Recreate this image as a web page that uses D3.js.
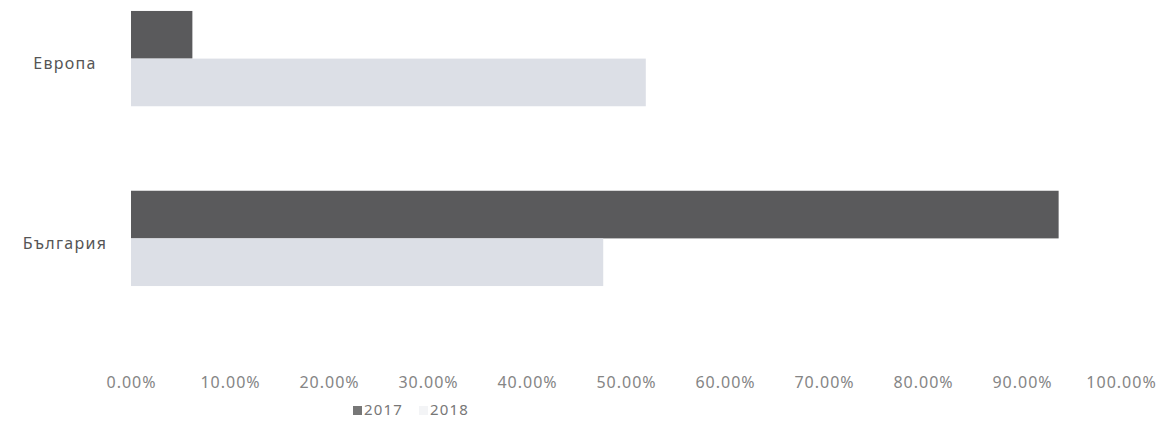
<!DOCTYPE html>
<html><head><meta charset="utf-8">
<script src="https://cdn.jsdelivr.net/npm/d3@7"></script>
<style>
body{margin:0;background:#fff;}
svg{display:block;}
text{font-family:"Noto Sans",sans-serif;}
</style></head>
<body>
<svg id="c" width="1168" height="422"></svg>
<script>
const categories = ["Европа", "България"];
const seriesNames = ["2017", "2018"];
const values2017 = [0.062, 0.937];
const values2018 = [0.52, 0.477];
const tickValues = [0,0.1,0.2,0.3,0.4,0.5,0.6,0.7,0.8,0.9,1.0];
const colors = ["#5a5a5c", "#dcdfe6"];

const svg = d3.select("#c");
const x = d3.scaleLinear().domain([0,1]).range([131,1121]);
const y = d3.scaleBand().domain(categories).range([-25, 322]).paddingInner(0.47).paddingOuter(0.2);
const ys = d3.scaleBand().domain(seriesNames).range([0, y.bandwidth()]);

const data = categories.map((c,i)=>({cat:c, vals:[values2017[i], values2018[i]]}));

const g = svg.append("g");
data.forEach(d=>{
  d.vals.forEach((v,j)=>{
    g.append("rect")
      .attr("x", x(0))
      .attr("y", y(d.cat)+ys(seriesNames[j]))
      .attr("width", x(v)-x(0))
      .attr("height", ys.bandwidth())
      .attr("fill", colors[j]);
  });
});

// category labels
svg.append("g").selectAll("text").data(categories).join("text")
  .attr("x", 65)
  .attr("y", d=>y(d)+y.bandwidth()/2+5)
  .attr("dy","0.35em")
  .attr("text-anchor","middle")
  .attr("font-size",16)
  .attr("letter-spacing",1.3)
  .attr("fill","#555")
  .text(d=>d);

// x axis
const ax = svg.append("g").attr("transform","translate(0,374)")
  .call(d3.axisBottom(x).tickValues(tickValues).tickFormat(d3.format(".2%")).tickSize(0));
ax.select(".domain").remove();
ax.selectAll("text").attr("font-size",16).attr("letter-spacing",1).attr("fill","#858585").attr("font-family","\"Noto Sans\",sans-serif");

// legend
const leg = svg.append("g").attr("transform","translate(353,410)");
const legX = [0, 66];
seriesNames.forEach((s,i)=>{
  leg.append("rect").attr("x",legX[i]).attr("y",-4).attr("width",9).attr("height",9).attr("fill", i===0?"#777":"#f3f4f6");
  leg.append("text").attr("x",legX[i]+11).attr("y",0).attr("dy","0.35em").attr("font-size",15).attr("letter-spacing",1.2).attr("fill","#777").text(s);
});
</script>
</body></html>
